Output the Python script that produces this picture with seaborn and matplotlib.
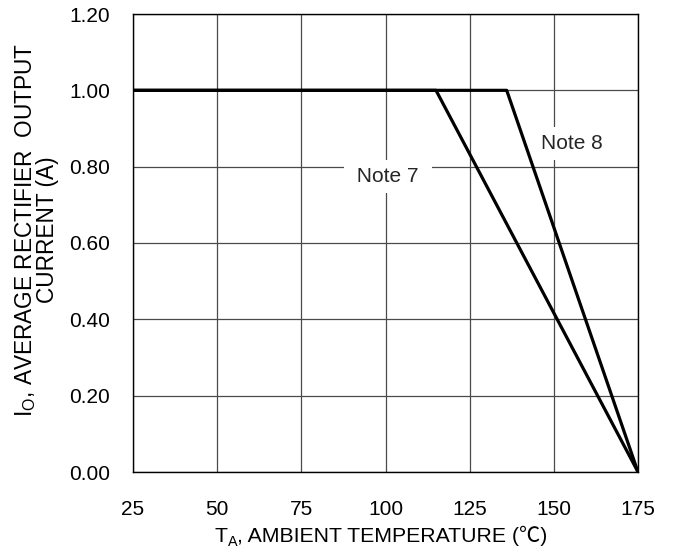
import matplotlib
matplotlib.use("Agg")
import matplotlib.pyplot as plt
import seaborn as sns
import pandas as pd

sns.set_theme(style="white")
plt.rcParams['font.family'] = ['Liberation Sans', 'Noto Sans CJK SC', 'DejaVu Sans']
plt.rcParams['mathtext.fontset'] = 'custom'
plt.rcParams['mathtext.rm'] = 'Liberation Sans'

temp_note7 = [25, 115, 175]
curr_note7 = [1.0, 1.0, 0.0]
temp_note8 = [25, 136, 175]
curr_note8 = [1.0, 1.0, 0.0]
x_ticks = [25, 50, 75, 100, 125, 150, 175]
y_ticks = [0.0, 0.2, 0.4, 0.6, 0.8, 1.0, 1.2]
y_tick_labels = ["0.00", "0.20", "0.40", "0.60", "0.80", "1.00", "1.20"]

df = pd.concat([
    pd.DataFrame({"T": temp_note7, "I": curr_note7, "s": "Note 7"}),
    pd.DataFrame({"T": temp_note8, "I": curr_note8, "s": "Note 8"}),
])

W, H = 673, 556
FS = 15
fig = plt.figure(figsize=(W / 100, H / 100), dpi=100)
ax = fig.add_axes([133 / W, 1 - 472 / H, (638 - 133) / W, (472 - 14) / H])

sns.lineplot(data=df, x="T", y="I", units="s", estimator=None, sort=False,
             color="black", linewidth=2.3, ax=ax, legend=False, zorder=5)

ax.set_xlim(25, 175)
ax.set_ylim(0, 1.2)
ax.set_xticks(x_ticks)
ax.set_yticks(y_ticks)
ax.set_yticklabels(y_tick_labels)
ax.grid(True, color="#4a4a4a", linewidth=0.9)
for sp in ax.spines.values():
    sp.set_color("black")
    sp.set_linewidth(1.0)
ax.tick_params(axis="both", length=0, labelsize=FS, colors="black")
ax.tick_params(axis="x", pad=20)
ax.tick_params(axis="y", pad=16.5)
ax.set_xlabel("")
ax.set_ylabel("")

# x label assembled from pieces (subscript + degree-Celsius glyph)
fig.canvas.draw()
renderer = fig.canvas.get_renderer()
base_y = 1 - 542 / H
XFS = 15.3
pieces = [
    ("T", XFS, 0),
    ("A", XFS * 0.68, -4),
    (", AMBIENT TEMPERATURE (℃)", XFS, 0),
]
texts = []
widths = []
for s, fs, dy in pieces:
    t = fig.text(0, base_y, s, fontsize=fs, ha="left", va="baseline", color="black")
    texts.append(t)
    widths.append(t.get_window_extent(renderer).width)
total = sum(widths)
x = (381 - total / 2)
for (s, fs, dy), t, w in zip(pieces, texts, widths):
    t.set_position((x / W, base_y + dy / H))
    x += w

# y label
fig.text(36 / W, 1 - 230 / H,
         "I$_\\mathregular{O}$, AVERAGE RECTIFIER  OUTPUT\nCURRENT (A)",
         fontsize=16.3, rotation=90, ha="center", va="center", color="black",
         linespacing=0.9, multialignment="center")

bbox = dict(facecolor="white", edgecolor="none", boxstyle="square,pad=0.35")
ax.text(100.7, 0.76, " Note 7 ", fontsize=FS, ha="center", va="baseline", bbox=bbox, zorder=4)
ax.text(155.4, 0.846, "Note 8", fontsize=FS, ha="center", va="baseline", bbox=bbox, zorder=4)

fig.savefig("out.png", dpi=100, facecolor="white")
